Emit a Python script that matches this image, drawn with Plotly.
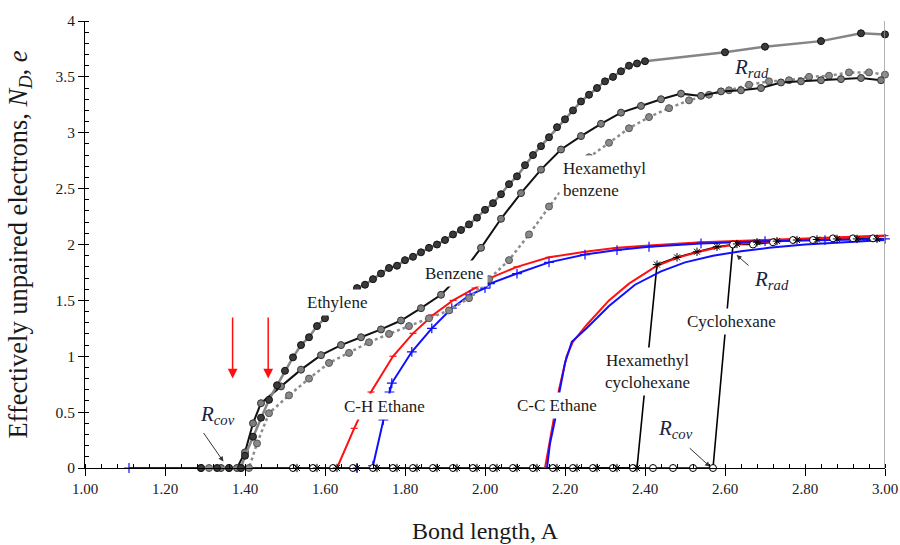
import plotly.graph_objects as go

# ---------------- data ----------------
eth_x = [1.29, 1.33, 1.36, 1.39, 1.40, 1.42, 1.44, 1.46, 1.48, 1.50, 1.52, 1.54, 1.56, 1.58,
         1.60, 1.62, 1.64, 1.66, 1.68, 1.70, 1.72, 1.74, 1.76, 1.78, 1.80, 1.82, 1.84, 1.86,
         1.88, 1.90, 1.92, 1.94, 1.96, 1.98, 2.00, 2.02, 2.04, 2.06, 2.08, 2.10, 2.12, 2.14,
         2.16, 2.18, 2.20, 2.22, 2.24, 2.26, 2.28, 2.30, 2.32, 2.34, 2.36, 2.38, 2.40, 2.60,
         2.70, 2.84, 2.94, 3.00]
eth_y = [0, 0, 0, 0, 0.11, 0.28, 0.45, 0.61, 0.74, 0.87, 0.99, 1.10, 1.17, 1.27,
         1.34, 1.42, 1.49, 1.56, 1.61, 1.64, 1.69, 1.74, 1.79, 1.81, 1.86, 1.89, 1.93, 1.97,
         2.00, 2.04, 2.09, 2.13, 2.18, 2.24, 2.31, 2.37, 2.45, 2.54, 2.61, 2.71, 2.80, 2.88,
         2.96, 3.05, 3.12, 3.20, 3.28, 3.34, 3.40, 3.46, 3.50, 3.55, 3.60, 3.62, 3.64, 3.72,
         3.77, 3.82, 3.89, 3.88]

ben_x = [1.29, 1.34, 1.38, 1.40, 1.42, 1.44, 1.49, 1.54, 1.59, 1.64, 1.69, 1.74, 1.79, 1.84,
         1.89, 1.94, 1.99, 2.04, 2.09, 2.14, 2.19, 2.24, 2.29, 2.34, 2.39, 2.44, 2.49, 2.54,
         2.59, 2.64, 2.69, 2.74, 2.79, 2.84, 2.89, 2.94, 2.99]
ben_y = [0, 0, 0, 0.14, 0.40, 0.58, 0.73, 0.88, 1.01, 1.10, 1.17, 1.24, 1.32, 1.43,
         1.55, 1.73, 1.97, 2.23, 2.46, 2.67, 2.85, 2.97, 3.08, 3.18, 3.24, 3.30, 3.35, 3.33,
         3.37, 3.38, 3.40, 3.45, 3.46, 3.47, 3.48, 3.49, 3.47]

hmb_x = [1.31, 1.36, 1.39, 1.41, 1.43, 1.46, 1.51, 1.56, 1.61, 1.66, 1.71, 1.76, 1.81, 1.86,
         1.91, 1.96, 2.01, 2.06, 2.11, 2.16, 2.21, 2.26, 2.31, 2.36, 2.41, 2.46, 2.51, 2.56,
         2.61, 2.66, 2.71, 2.76, 2.81, 2.86, 2.91, 2.96, 3.00]
hmb_y = [0, 0, 0, 0, 0.22, 0.49, 0.65, 0.80, 0.94, 1.03, 1.125, 1.20, 1.27, 1.34,
         1.41, 1.52, 1.69, 1.86, 2.09, 2.34, 2.58, 2.78, 2.91, 3.04, 3.14, 3.22, 3.29, 3.34,
         3.38, 3.43, 3.46, 3.47, 3.50, 3.51, 3.54, 3.54, 3.52]

chr_x = [1.56, 1.585, 1.615, 1.63, 1.673, 1.715, 1.77, 1.82, 1.87, 1.92, 1.975, 2.0125,
         2.08, 2.16, 2.25, 2.33, 2.41, 2.54, 2.70, 2.85, 3.00]
chr_y = [0, -0.02, -0.02, 0, 0.355, 0.68, 1.00, 1.205, 1.37, 1.50, 1.61, 1.70,
         1.80, 1.885, 1.935, 1.97, 1.99, 2.02, 2.04, 2.06, 2.08]

chb_x = [1.11, 1.68, 1.69, 1.71, 1.72, 1.746, 1.761, 1.767, 1.817, 1.867, 1.917, 1.9625,
         2.00, 2.0125, 2.08, 2.16, 2.25, 2.33, 2.41, 2.54, 2.70, 2.85, 3.00]
chb_y = [0, 0, -0.02, -0.02, 0.02, 0.43, 0.68, 0.76, 1.04, 1.25, 1.43, 1.55,
         1.61, 1.65, 1.74, 1.84, 1.91, 1.95, 1.98, 2.01, 2.03, 2.04, 2.05]

ccr_x = [2.10, 2.15, 2.17, 2.185, 2.204, 2.22, 2.254, 2.31, 2.36, 2.43, 2.48, 2.53, 2.59,
         2.65, 2.71, 2.80, 2.90, 3.00]
ccr_y = [0, 0, 0.40, 0.70, 1.00, 1.13, 1.28, 1.50, 1.65, 1.81, 1.88, 1.93, 1.98,
         2.01, 2.025, 2.04, 2.06, 2.075]

ccb_x = [1.11, 2.11, 2.12, 2.145, 2.155, 2.1625, 2.175, 2.186, 2.20, 2.217, 2.254, 2.31,
         2.375, 2.44, 2.50, 2.57, 2.64, 2.71, 2.80, 2.90, 3.00]
ccb_y = [0, 0, -0.02, -0.02, 0, 0.22, 0.43, 0.68, 0.94, 1.13, 1.25, 1.45,
         1.64, 1.76, 1.84, 1.90, 1.94, 1.97, 2.00, 2.02, 2.04]

cyc_x = [1.52, 1.57, 1.62, 1.67, 1.72, 1.77, 1.82, 1.87, 1.92, 1.97, 2.02, 2.07, 2.12, 2.17,
         2.22, 2.27, 2.32, 2.37, 2.42, 2.47, 2.52, 2.57, 2.62, 2.67, 2.72, 2.77, 2.82, 2.87,
         2.92, 2.97]
cyc_y = [0, 0, 0, 0, 0, 0, 0, 0, 0, 0, 0, 0, 0, 0,
         0, 0, 0, 0, 0, 0, 0, 0, 2.00, 2.00, 2.02, 2.04, 2.04, 2.055,
         2.055, 2.055]

hmc_x = [1.53, 1.58, 1.63, 1.68, 1.73, 1.78, 1.83, 1.88, 1.93, 1.98, 2.03, 2.08, 2.13, 2.18,
         2.23, 2.28, 2.33, 2.38, 2.43, 2.48, 2.53, 2.58, 2.63, 2.68, 2.73, 2.78, 2.83, 2.88,
         2.93, 2.98]
hmc_y = [0, 0, 0, 0, 0, 0, 0, 0, 0, 0, 0, 0, 0, 0,
         0, 0, 0, 0, 1.82, 1.885, 1.935, 1.98, 2.005, 2.02, 2.03, 2.04, 2.045, 2.05,
         2.05, 2.05]

x_ticks = [1.0, 1.2, 1.4, 1.6, 1.8, 2.0, 2.2, 2.4, 2.6, 2.8, 3.0]
y_ticks = [0, 0.5, 1, 1.5, 2, 2.5, 3, 3.5, 4]

SERIF = "Liberation Serif"
RED = "#ff1010"
BLUE = "#1010ff"

fig = go.Figure()


def add(x, y, color, width, dash="solid", mode="lines", marker=None):
    fig.add_trace(go.Scatter(x=x, y=y, mode=mode, cliponaxis=False, showlegend=False,
                             line=dict(color=color, width=width, dash=dash),
                             marker=marker or {}, hoverinfo="skip"))


# black cyclohexane-type lines (under red/blue)
add(cyc_x, cyc_y, "black", 1.6)
add(hmc_x, hmc_y, "black", 1.6)
# ethane curves
add(ccr_x, ccr_y, RED, 2)
add(chr_x, chr_y, RED, 2, mode="lines+markers",
    marker=dict(symbol="line-ew", size=5, line=dict(color=RED, width=1.2)))
add(ccb_x, ccb_y, BLUE, 2)
add(chb_x, chb_y, BLUE, 2, mode="lines+markers",
    marker=dict(symbol="cross-thin", size=7, line=dict(color=BLUE, width=1.2)))
# cyclohexane markers on top
add(cyc_x, cyc_y, "black", 1, mode="markers",
    marker=dict(symbol="circle", size=7, color="white", line=dict(color="black", width=1)))
add(hmc_x, hmc_y, "black", 1, mode="markers",
    marker=dict(symbol="asterisk-open", size=7, line=dict(color="black", width=1)))
# aromatic / ethylene curves
add(hmb_x, hmb_y, "#8c8c8c", 2.5, dash="dot", mode="lines+markers",
    marker=dict(symbol="circle", size=7, color="#8a8a8a", line=dict(color="#555", width=1)))
add(ben_x, ben_y, "#111", 2, mode="lines+markers",
    marker=dict(symbol="circle", size=7, color="#7d7d7d", line=dict(color="#333", width=1)))
add(eth_x, eth_y, "#858585", 2.5, mode="lines+markers",
    marker=dict(symbol="circle", size=7, color="#3a3a3a", line=dict(color="#111", width=1)))

# right frame line
fig.add_shape(type="line", xref="x", yref="y", x0=3.0, x1=3.0, y0=0, y1=4,
              line=dict(color="#999999", width=1.5))

ann = []


def label(text, x, y, xanchor="center", align="center"):
    ann.append(dict(text=text, x=x, y=y, xref="x", yref="y", showarrow=False,
                    xanchor=xanchor, yanchor="middle", align=align,
                    bgcolor="white", borderpad=3,
                    font=dict(family=SERIF, size=17, color="#1a1a1a")))


def arrow(xh, yh, xt, yt, color="#333", width=1, size=1.0):
    ann.append(dict(text="", x=xh, y=yh, ax=xt, ay=yt, xref="x", yref="y",
                    axref="x", ayref="y", showarrow=True, arrowhead=2,
                    arrowsize=size, arrowwidth=width, arrowcolor=color))


def rlabel(sub, x, y):
    ann.append(dict(text="<i>R</i><sub><i>" + sub + "</i></sub>", x=x, y=y,
                    xref="x", yref="y", showarrow=False,
                    font=dict(family=SERIF, size=21, color="#1a2440")))


label("Ethylene", 1.63, 1.485)
label("Benzene", 1.924, 1.74)
label("Hexamethyl<br>benzene", 2.186, 2.586, xanchor="left", align="left")
label("C-H Ethane", 1.7475, 0.55)
label("C-C Ethane", 2.18, 0.555)
label("Hexamethyl<br>cyclohexane", 2.405, 0.868)
label("Cyclohexane", 2.615, 1.31)

arrow(1.369, 0.80, 1.369, 1.36, color=RED, width=1.5, size=1.3)
arrow(1.458, 0.80, 1.458, 1.36, color=RED, width=1.5, size=1.3)
arrow(1.346, 0.058, 1.294, 0.326)
arrow(2.5625, 0.012, 2.508, 0.19)
arrow(2.629, 1.906, 2.6625, 1.80)

rlabel("cov", 1.33, 0.47)
rlabel("cov", 2.475, 0.35)
rlabel("rad", 2.665, 3.58)
rlabel("rad", 2.715, 1.68)

fig.update_layout(
    width=900, height=545,
    margin=dict(l=85, r=15, t=21, b=77),
    paper_bgcolor="white", plot_bgcolor="white",
    font=dict(family=SERIF, size=15, color="#1a1a1a"),
    annotations=ann,
    xaxis=dict(range=[1.0, 3.0], tickvals=x_ticks, tickformat=".2f", automargin=False,
               showgrid=False, zeroline=False, showline=True, linecolor="black", linewidth=1,
               ticks="outside", ticklen=7, tickcolor="black",
               minor=dict(dtick=0.04, ticks="inside", ticklen=4, tickcolor="black"),
               tickfont=dict(family=SERIF, size=15),
               title=dict(text="Bond length, A", font=dict(family=SERIF, size=24), standoff=26)),
    yaxis=dict(range=[0, 4], tickvals=y_ticks, automargin=False,
               showgrid=False, zeroline=False, showline=True, linecolor="black", linewidth=1,
               ticks="outside", ticklen=6, tickcolor="black",
               minor=dict(dtick=0.1, ticks="inside", ticklen=4, tickcolor="black"),
               tickfont=dict(family=SERIF, size=15.5),
               title=dict(text="Effectively unpaired electrons, <i>N<sub>D</sub></i>, <i>e</i>",
                          font=dict(family=SERIF, size=26.5), standoff=20)),
)

# remove the default page margin so the 900x545 figure fills the window exactly
fig.write_html("out.html", config={"displayModeBar": False},
               post_script="document.body.style.margin='0';document.body.style.overflow='hidden';")
